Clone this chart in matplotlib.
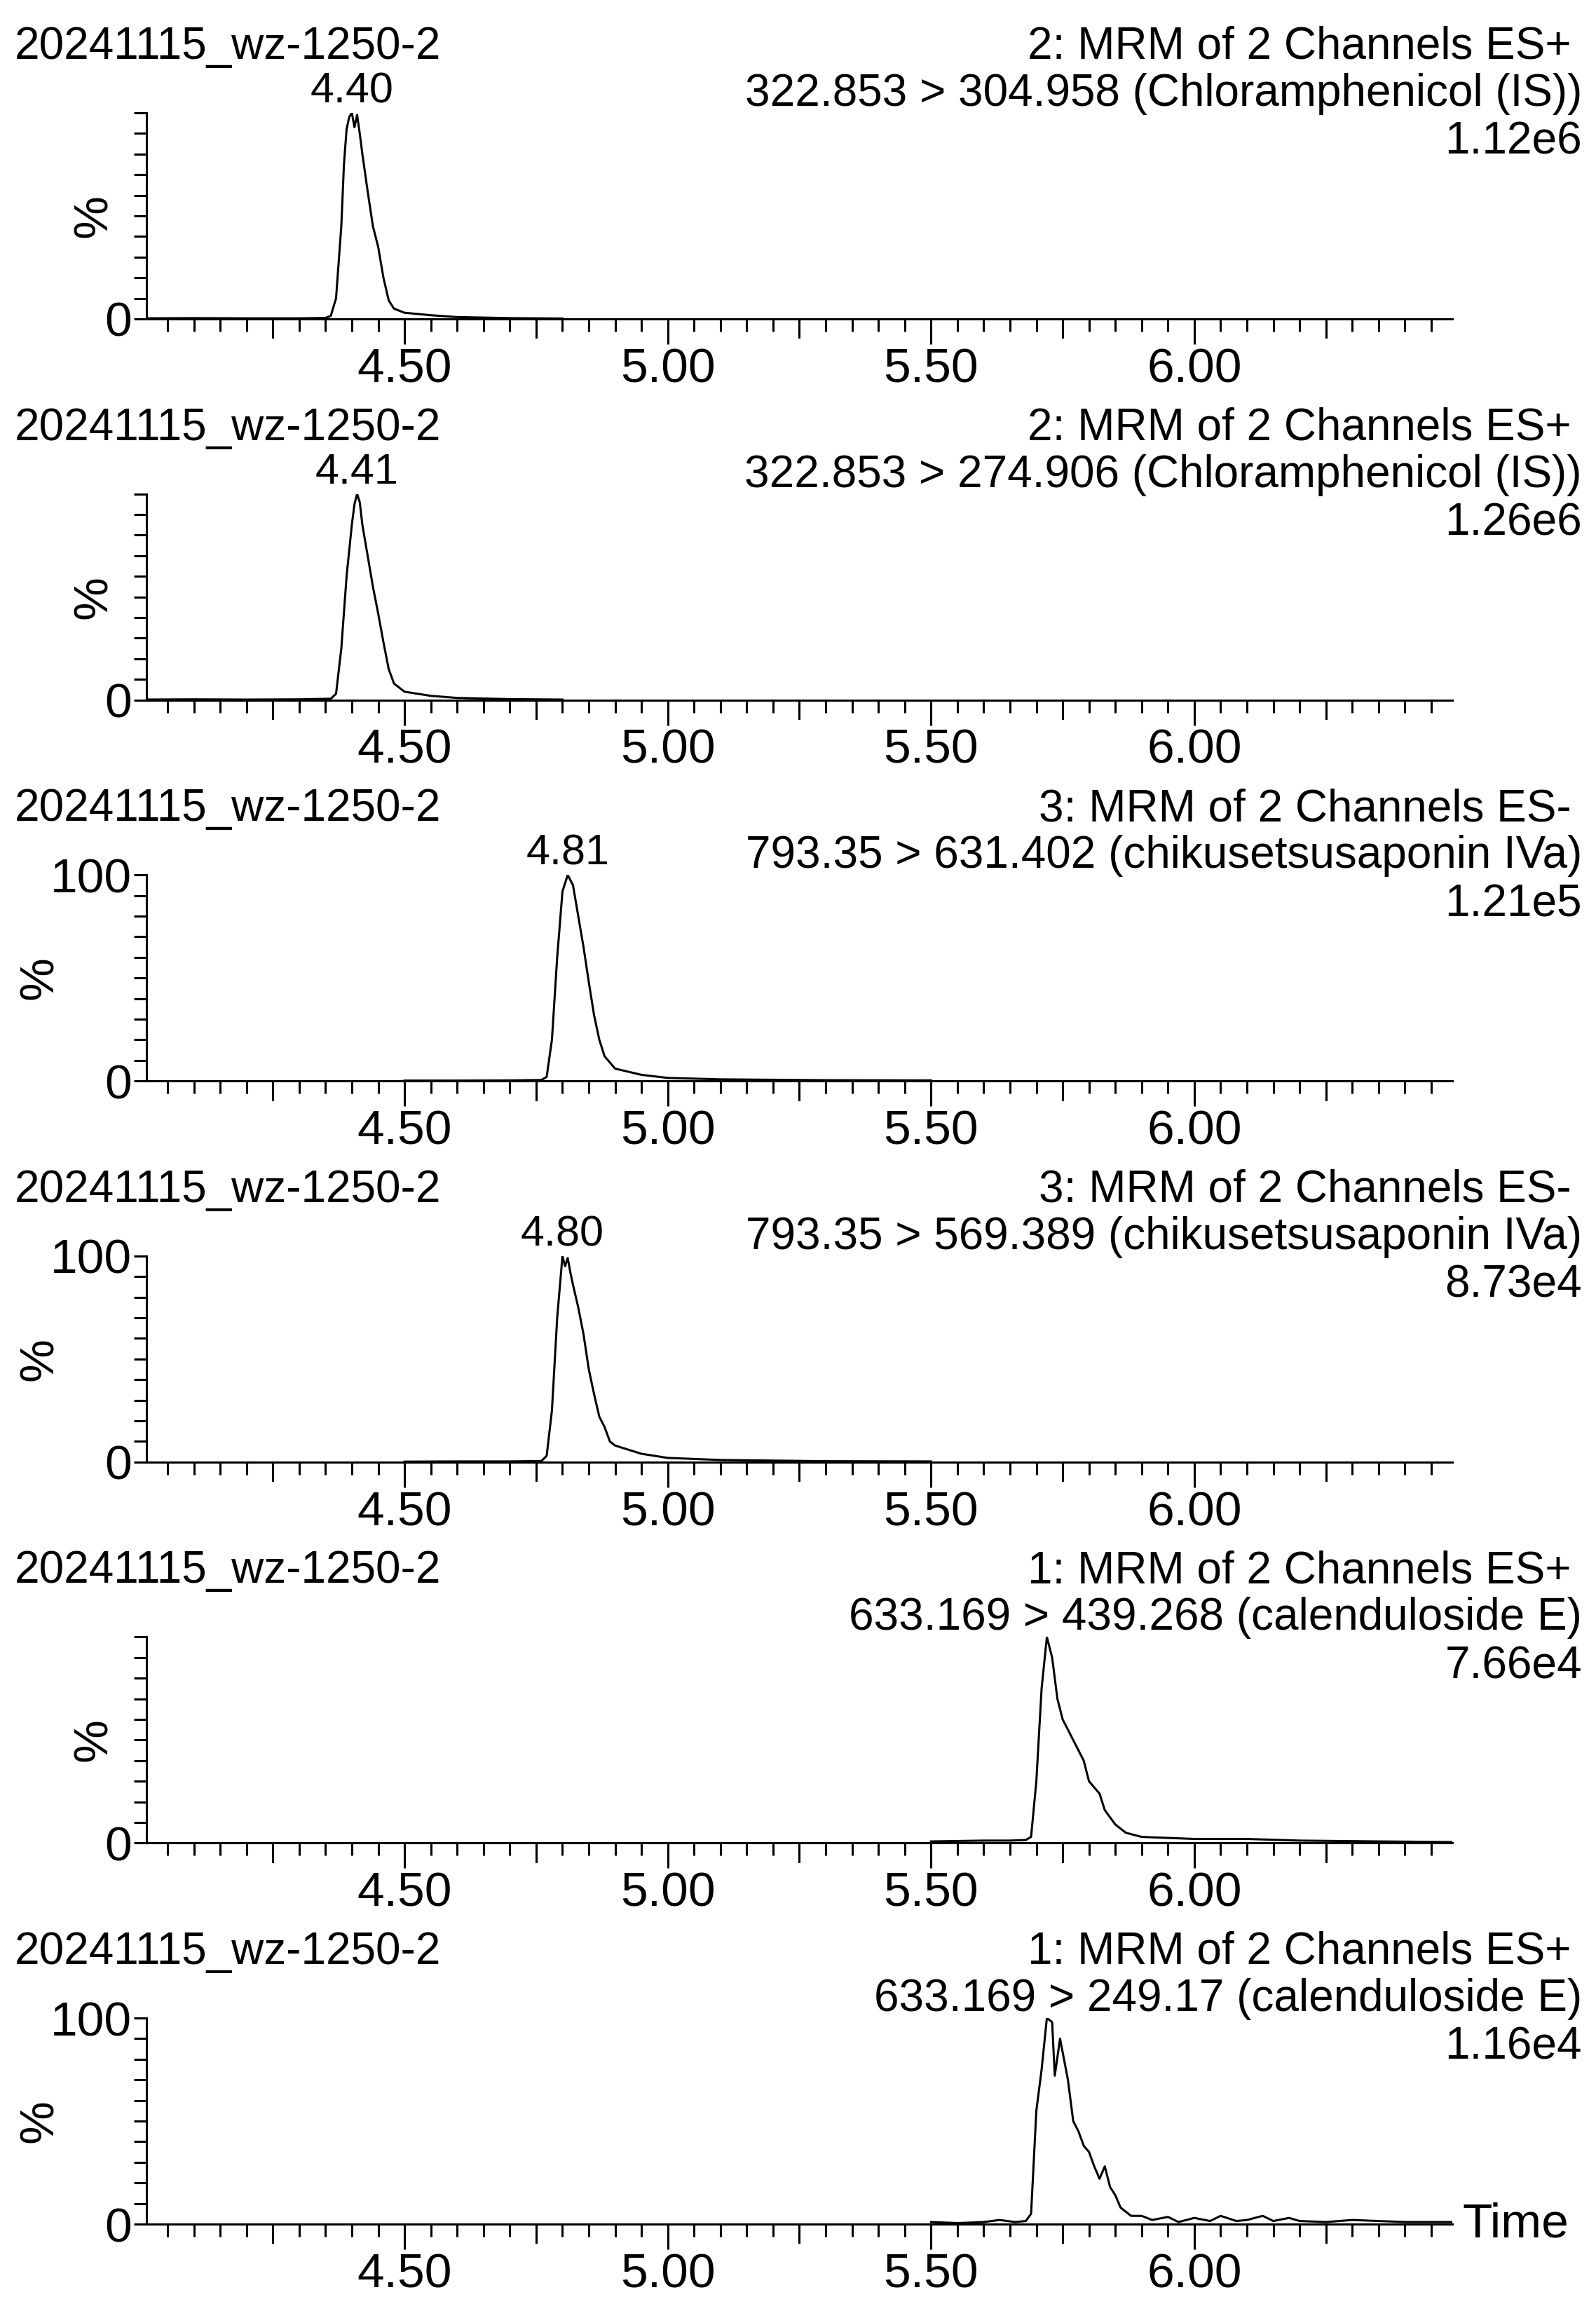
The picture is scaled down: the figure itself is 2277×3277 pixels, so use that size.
import matplotlib
matplotlib.use("Agg")
import matplotlib.pyplot as plt
from matplotlib.ticker import MultipleLocator, FixedLocator

plt.rcParams['font.family'] = ['Liberation Sans', 'DejaVu Sans']

W, H = 2277, 3277
sample = "20241115_wz-1250-2"
func_lines = ["2: MRM of 2 Channels ES+", "2: MRM of 2 Channels ES+",
              "3: MRM of 2 Channels ES-", "3: MRM of 2 Channels ES-",
              "1: MRM of 2 Channels ES+", "1: MRM of 2 Channels ES+"]
trans_lines = ["322.853 > 304.958 (Chloramphenicol (IS))",
               "322.853 > 274.906 (Chloramphenicol (IS))",
               "793.35 > 631.402 (chikusetsusaponin IVa)",
               "793.35 > 569.389 (chikusetsusaponin IVa)",
               "633.169 > 439.268 (calenduloside E)",
               "633.169 > 249.17 (calenduloside E)"]
scales = ["1.12e6", "1.26e6", "1.21e5", "8.73e4", "7.66e4", "1.16e4"]
peak_rt = [4.40, 4.41, 4.81, 4.80, None, None]
peak_labels = ["4.40", "4.41", "4.81", "4.80", None, None]
show_100 = [False, False, True, True, False, True]

t1 = [4.00, 4.10, 4.20, 4.30, 4.35, 4.36, 4.37, 4.38, 4.385, 4.39, 4.395, 4.40, 4.405, 4.41, 4.415, 4.42, 4.43, 4.44, 4.45, 4.46, 4.47, 4.48, 4.50, 4.55, 4.60, 4.70, 4.80]
y1 = [0.3, 0.4, 0.3, 0.3, 0.5, 1.5, 10, 45, 75, 92, 98, 100, 93, 99, 90, 80, 62, 45, 35, 20, 9, 5, 3, 1.8, 0.9, 0.4, 0.2]
t2 = [4.00, 4.10, 4.20, 4.30, 4.36, 4.37, 4.38, 4.39, 4.40, 4.405, 4.41, 4.415, 4.42, 4.43, 4.44, 4.45, 4.46, 4.47, 4.48, 4.50, 4.55, 4.60, 4.70, 4.80]
y2 = [0.2, 0.3, 0.2, 0.3, 0.6, 3, 25, 60, 85, 95, 100, 96, 85, 70, 55, 42, 28, 15, 8, 4, 2, 1, 0.4, 0.2]
t3 = [4.50, 4.60, 4.70, 4.76, 4.77, 4.78, 4.79, 4.80, 4.81, 4.82, 4.83, 4.84, 4.85, 4.86, 4.87, 4.88, 4.90, 4.95, 5.00, 5.10, 5.30, 5.50]
y3 = [0.2, 0.2, 0.3, 0.5, 2, 20, 60, 92, 100, 95, 80, 65, 48, 32, 20, 12, 6, 3, 1.5, 0.8, 0.4, 0.3]
t4 = [4.50, 4.60, 4.70, 4.76, 4.77, 4.78, 4.79, 4.80, 4.805, 4.81, 4.815, 4.82, 4.83, 4.84, 4.85, 4.86, 4.87, 4.88, 4.89, 4.90, 4.95, 5.00, 5.10, 5.30, 5.50]
y4 = [0.2, 0.3, 0.3, 0.5, 3, 25, 70, 100, 95, 99, 92, 86, 75, 62, 45, 33, 22, 17, 10, 8, 4, 2, 1, 0.4, 0.3]
t5 = [5.50, 5.55, 5.60, 5.65, 5.68, 5.69, 5.70, 5.71, 5.72, 5.73, 5.74, 5.75, 5.76, 5.77, 5.79, 5.80, 5.82, 5.83, 5.85, 5.87, 5.90, 6.00, 6.10, 6.20, 6.35, 6.49]
y5 = [0.8, 1.0, 1.2, 1.2, 1.5, 3, 30, 75, 100, 90, 70, 60, 55, 50, 40, 30, 24, 16, 9, 5, 3, 2, 2, 1.2, 0.8, 0.5]
t6 = [5.50, 5.55, 5.60, 5.63, 5.66, 5.68, 5.69, 5.70, 5.71, 5.72, 5.73, 5.735, 5.745, 5.76, 5.77, 5.78, 5.79, 5.80, 5.81, 5.82, 5.83, 5.84, 5.85, 5.86, 5.88, 5.90, 5.92, 5.95, 5.97, 6.00, 6.03, 6.05, 6.08, 6.10, 6.13, 6.15, 6.18, 6.20, 6.25, 6.30, 6.40, 6.49]
y6 = [1, 0.5, 1, 2, 1, 1.5, 5, 55, 75, 100, 98, 72, 90, 70, 50, 45, 38, 35, 28, 22, 28, 18, 14, 8, 4, 4, 2, 3.5, 1, 3, 1.5, 4, 1.5, 2, 4, 1.5, 3, 1.5, 1, 2, 1, 1]
traces = [(t1, y1), (t2, y2), (t3, y3), (t4, y4), (t5, y5), (t6, y6)]

FS = 46
TFS = 50
fig = plt.figure(figsize=(W / 100, H / 100), dpi=100)
left, right = 209, 2072
for i in range(6):
    top = 161 + i * 543.6
    bot = 455 + i * 543.6
    ax = fig.add_axes([left / W, 1 - bot / H, (right - left) / W, (bot - top) / H])
    t, y = traces[i]
    ax.plot(t, y, color='black', lw=2.2)
    ax.set_xlim(4.01, 6.49)
    ax.set_ylim(0, 100)
    for s in ['top', 'right']:
        ax.spines[s].set_visible(False)
    for s in ['left', 'bottom']:
        ax.spines[s].set_linewidth(2.2)
    ax.xaxis.set_major_locator(FixedLocator([4.5, 5.0, 5.5, 6.0]))
    ax.set_xticklabels(["4.50", "5.00", "5.50", "6.00"])
    ax.xaxis.set_minor_locator(MultipleLocator(0.05))
    ax.tick_params(axis='x', which='major', length=26, width=2.2, labelsize=TFS, pad=3)
    ax.tick_params(axis='x', which='minor', length=13, width=2.2)
    for q in [4.25, 4.75, 5.25, 5.75, 6.25]:
        ax.plot([q, q], [0, -0.09], transform=ax.get_xaxis_transform(), color='black', lw=2.2, clip_on=False)
    yt = [0, 100] if show_100[i] else [0]
    ax.yaxis.set_major_locator(FixedLocator(yt))
    ax.set_yticklabels([str(v) for v in yt])
    ax.yaxis.set_minor_locator(MultipleLocator(10))
    ax.tick_params(axis='y', which='both', length=13, width=2.2, labelsize=TFS, pad=2)
    ax.set_ylabel("%", fontsize=TFS, labelpad=-12)
    fig.text(21 / W, 1 - (top - 94) / H, sample, fontsize=FS, ha='left', va='center')
    fig.text(2242 / W, 1 - (top - 94) / H, func_lines[i], fontsize=FS, ha='right', va='center')
    fig.text(2257 / W, 1 - (top - 27) / H, trans_lines[i], fontsize=FS, ha='right', va='center')
    fig.text(2257 / W, 1 - (top + 42) / H, scales[i], fontsize=FS, ha='right', va='center')
    if peak_rt[i] is not None:
        ax.text(peak_rt[i], 100.5, peak_labels[i], fontsize=44, ha='center', va='bottom')
    if i == 5:
        ax.text(1.008, 0, "Time", transform=ax.transAxes, fontsize=TFS, ha='left', va='center')

fig.savefig("out.png", dpi=100)
